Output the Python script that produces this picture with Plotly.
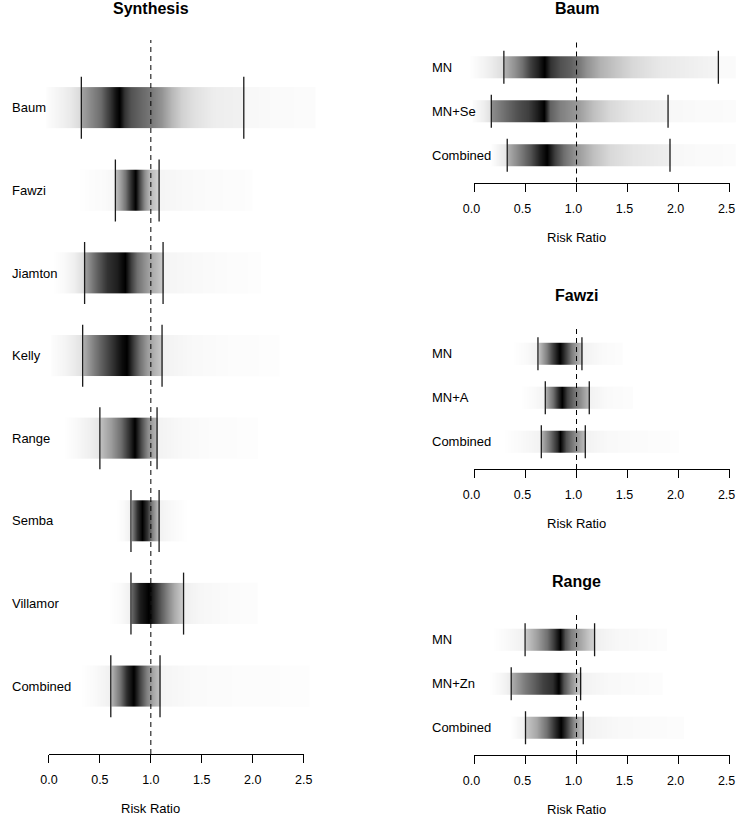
import plotly.graph_objects as go

W, H = 745, 816

# ---------------- data ----------------
TICK_VALUES = [0.0, 0.5, 1.0, 1.5, 2.0, 2.5]
TICK_LABELS = ["0.0", "0.5", "1.0", "1.5", "2.0", "2.5"]
NULL_VALUE = 1.0
AXIS_TITLE = "Risk Ratio"

# --- Synthesis panel ---
SYN_TITLE = "Synthesis"
SYN_LABELS = ["Baum", "Fawzi", "Jiamton", "Kelly", "Range", "Semba", "Villamor", "Combined"]
SYN_LO = [0.318, 0.652, 0.35, 0.331, 0.5, 0.805, 0.805, 0.607]
SYN_HI = [1.912, 1.081, 1.12, 1.11, 1.061, 1.081, 1.321, 1.09]
# density-strip shading: positions and darkness (0 = white, 1 = black)
SYN_SHADE_X = [
    [-0.04, -0.03, 0.08, 0.2, 0.318, 0.318, 0.4, 0.5, 0.6, 0.65, 0.69, 0.74, 0.8, 0.9, 1.0, 1.1, 1.2, 1.3, 1.42, 1.6, 1.912, 1.912, 2.2, 2.6, 2.61],
    [0.28, 0.4, 0.55, 0.652, 0.652, 0.7, 0.75, 0.8, 0.844, 0.89, 0.94, 0.99, 1.081, 1.081, 1.3, 1.6, 1.83, 1.99, 2.0],
    [0.05, 0.15, 0.25, 0.35, 0.35, 0.47, 0.57, 0.67, 0.75, 0.8, 0.86, 0.92, 0.99, 1.12, 1.12, 1.4, 1.8, 2.07, 2.08],
    [0.01, 0.02, 0.15, 0.25, 0.331, 0.331, 0.44, 0.54, 0.63, 0.71, 0.76, 0.83, 0.89, 0.97, 1.11, 1.11, 1.4, 1.8, 2.25, 2.26],
    [0.146, 0.25, 0.4, 0.5, 0.5, 0.6, 0.7, 0.78, 0.844, 0.91, 0.97, 1.061, 1.061, 1.3, 1.6, 2.04, 2.05],
    [0.665, 0.74, 0.805, 0.805, 0.86, 0.915, 0.96, 1.01, 1.081, 1.081, 1.2, 1.36],
    [0.584, 0.7, 0.805, 0.805, 0.89, 0.98, 1.04, 1.1, 1.17, 1.23, 1.321, 1.321, 1.5, 1.8, 2.04, 2.05],
    [0.31, 0.45, 0.607, 0.607, 0.7, 0.76, 0.828, 0.89, 0.96, 1.02, 1.09, 1.09, 1.4, 1.9, 2.55, 2.56],
]
SYN_SHADE_D = [
    [0, 0.01, 0.04, 0.08, 0.15, 0.36, 0.45, 0.57, 0.8, 0.93, 1.0, 0.8, 0.68, 0.6, 0.52, 0.42, 0.28, 0.18, 0.12, 0.07, 0.055, 0.03, 0.02, 0.015, 0],
    [0, 0.01, 0.02, 0.04, 0.25, 0.38, 0.55, 0.8, 1.0, 0.72, 0.45, 0.28, 0.15, 0.04, 0.025, 0.015, 0.012, 0.008, 0],
    [0, 0.02, 0.06, 0.14, 0.38, 0.62, 0.8, 0.88, 1.0, 0.75, 0.56, 0.46, 0.35, 0.2, 0.04, 0.025, 0.012, 0.008, 0],
    [0, 0.01, 0.04, 0.08, 0.12, 0.32, 0.5, 0.68, 0.82, 0.95, 1.0, 0.75, 0.56, 0.38, 0.2, 0.05, 0.025, 0.012, 0.008, 0],
    [0, 0.02, 0.06, 0.1, 0.25, 0.38, 0.56, 0.8, 1.0, 0.68, 0.45, 0.25, 0.05, 0.025, 0.012, 0.008, 0],
    [0, 0.02, 0.06, 0.5, 0.8, 1.0, 0.8, 0.5, 0.22, 0.05, 0.025, 0],
    [0, 0.02, 0.06, 0.6, 0.88, 1.0, 0.82, 0.62, 0.45, 0.32, 0.18, 0.06, 0.03, 0.015, 0.01, 0],
    [0, 0.02, 0.06, 0.3, 0.56, 0.82, 1.0, 0.75, 0.5, 0.35, 0.22, 0.04, 0.02, 0.012, 0.008, 0],
]

# --- Baum panel ---
BAUM_TITLE = "Baum"
BAUM_LABELS = ["MN", "MN+Se", "Combined"]
BAUM_LO = [0.288, 0.165, 0.321]
BAUM_HI = [2.39, 1.897, 1.916]
BAUM_SHADE_X = [
    [-0.05, 0.05, 0.15, 0.288, 0.288, 0.39, 0.47, 0.55, 0.63, 0.68, 0.74, 0.84, 0.94, 1.0, 1.1, 1.23, 1.39, 1.55, 1.81, 2.14, 2.39, 2.39, 2.7],
    [-0.03, -0.02, 0.08, 0.165, 0.165, 0.29, 0.42, 0.52, 0.61, 0.677, 0.74, 0.84, 1.0, 1.16, 1.33, 1.55, 1.897, 1.897, 2.2, 2.7],
    [0.16, 0.24, 0.321, 0.321, 0.44, 0.55, 0.64, 0.71, 0.79, 0.87, 1.0, 1.16, 1.33, 1.55, 1.916, 1.916, 2.2, 2.7],
]
BAUM_SHADE_D = [
    [0, 0.03, 0.07, 0.14, 0.3, 0.43, 0.56, 0.75, 0.88, 1.0, 0.8, 0.68, 0.62, 0.56, 0.43, 0.3, 0.22, 0.15, 0.09, 0.06, 0.04, 0.02, 0.015],
    [0, 0.01, 0.06, 0.12, 0.45, 0.56, 0.68, 0.75, 0.88, 1.0, 0.62, 0.5, 0.4, 0.25, 0.15, 0.09, 0.055, 0.03, 0.02, 0.015],
    [0, 0.05, 0.1, 0.32, 0.5, 0.68, 0.88, 1.0, 0.75, 0.56, 0.4, 0.25, 0.15, 0.1, 0.065, 0.03, 0.02, 0.015],
]

# --- Fawzi panel ---
FAWZI_TITLE = "Fawzi"
FAWZI_LABELS = ["MN", "MN+A", "Combined"]
FAWZI_LO = [0.622, 0.694, 0.655]
FAWZI_HI = [1.053, 1.125, 1.086]
FAWZI_SHADE_X = [
    [0.37, 0.5, 0.622, 0.622, 0.71, 0.77, 0.833, 0.89, 0.95, 1.03, 1.053, 1.053, 1.25, 1.44, 1.45],
    [0.45, 0.58, 0.694, 0.694, 0.77, 0.82, 0.856, 0.9, 0.97, 1.03, 1.125, 1.125, 1.3, 1.54, 1.55],
    [0.29, 0.45, 0.655, 0.655, 0.74, 0.81, 0.84, 0.9, 0.98, 1.086, 1.086, 1.3, 1.6, 1.82, 1.99, 2.0],
]
FAWZI_SHADE_D = [
    [0, 0.02, 0.05, 0.25, 0.5, 0.75, 1.0, 0.75, 0.5, 0.28, 0.22, 0.05, 0.02, 0.01, 0],
    [0, 0.02, 0.05, 0.32, 0.56, 0.82, 1.0, 0.75, 0.56, 0.45, 0.25, 0.05, 0.02, 0.01, 0],
    [0, 0.02, 0.05, 0.32, 0.56, 0.82, 1.0, 0.68, 0.45, 0.25, 0.05, 0.025, 0.015, 0.012, 0.008, 0],
]

# --- Range panel ---
RANGE_TITLE = "Range"
RANGE_LABELS = ["MN", "MN+Zn", "Combined"]
RANGE_LO = [0.496, 0.36, 0.5]
RANGE_HI = [1.177, 1.04, 1.066]
RANGE_SHADE_X = [
    [0.175, 0.3, 0.496, 0.496, 0.61, 0.71, 0.77, 0.833, 0.89, 0.95, 1.03, 1.12, 1.177, 1.177, 1.4, 1.88, 1.89],
    [0.142, 0.25, 0.36, 0.36, 0.48, 0.58, 0.68, 0.76, 0.823, 0.87, 0.94, 1.02, 1.04, 1.04, 1.3, 1.83, 1.84],
    [0.35, 0.42, 0.5, 0.5, 0.61, 0.71, 0.79, 0.84, 0.9, 0.97, 1.05, 1.066, 1.066, 1.4, 2.04, 2.05],
]
RANGE_SHADE_D = [
    [0, 0.02, 0.06, 0.22, 0.38, 0.56, 0.75, 1.0, 0.68, 0.5, 0.35, 0.22, 0.17, 0.06, 0.03, 0.01, 0],
    [0, 0.03, 0.08, 0.32, 0.5, 0.62, 0.75, 0.82, 1.0, 0.68, 0.45, 0.22, 0.2, 0.05, 0.025, 0.01, 0],
    [0, 0.03, 0.06, 0.22, 0.35, 0.56, 0.82, 1.0, 0.75, 0.45, 0.25, 0.22, 0.05, 0.025, 0.01, 0],
]

# ---------------- layout (pixel geometry) ----------------
FONT = "Liberation Sans, Arial, Helvetica, sans-serif"

# The viewer shows page x at  CAP_OFF + CAP_SCALE * x  (measured on earlier renders);
# geometry below is given in target-picture pixels and converted to page pixels.
CAP_OFF = 7.8
CAP_SCALE = 0.979


def page_x(target_px):
    return min(W, max(0.0, (target_px - CAP_OFF) / CAP_SCALE))


PANELS = [
    dict(title=SYN_TITLE, labels=SYN_LABELS, lo=SYN_LO, hi=SYN_HI, sx=SYN_SHADE_X, sd=SYN_SHADE_D,
         px0=0, px1=372, x0px=45.0, ppu=102.67, ptop=40, pbot=754, label_px=2, tshift=0),
    dict(title=BAUM_TITLE, labels=BAUM_LABELS, lo=BAUM_LO, hi=BAUM_HI, sx=BAUM_SHADE_X, sd=BAUM_SHADE_D,
         px0=372, px1=745, x0px=473.7, ppu=102.8, ptop=40, pbot=182.5, label_px=431, tshift=-3),
    dict(title=FAWZI_TITLE, labels=FAWZI_LABELS, lo=FAWZI_LO, hi=FAWZI_HI, sx=FAWZI_SHADE_X, sd=FAWZI_SHADE_D,
         px0=372, px1=745, x0px=473.7, ppu=102.8, ptop=326.5, pbot=469, label_px=431, tshift=-3),
    dict(title=RANGE_TITLE, labels=RANGE_LABELS, lo=RANGE_LO, hi=RANGE_HI, sx=RANGE_SHADE_X, sd=RANGE_SHADE_D,
         px0=372, px1=745, x0px=473.7, ppu=102.8, ptop=612.5, pbot=755, label_px=431, tshift=-3),
]

STRIP_H = 0.5
CI_H = 0.75
GRAY = [[0.0, "#ffffff"], [1.0, "#000000"]]


def nudge(xs):
    out = []
    for v in xs:
        if out and v <= out[-1]:
            v = out[-1] + 0.004
        out.append(v)
    return out


fig = go.Figure()
layout = dict(
    width=W, height=H, autosize=False, margin=dict(l=0, r=0, t=0, b=0, pad=0),
    paper_bgcolor="white", plot_bgcolor="rgba(0,0,0,0)",
    showlegend=False, font=dict(family=FONT, color="black", size=13),
)
annotations = []

for i, p in enumerate(PANELS):
    n = i + 1
    tn = i + 5
    xa = "x" if n == 1 else f"x{n}"
    ya = "y" if n == 1 else f"y{n}"
    xta = f"x{tn}"
    nrows = len(p["labels"])
    ylo = 0.5 - 0.04 * nrows
    yhi = nrows + 0.5 + 0.04 * nrows

    # convert panel geometry to page pixels
    x0 = page_x(p["x0px"])
    ppu = p["ppu"] / CAP_SCALE
    d0, d1 = page_x(p["px0"]), page_x(p["px1"])
    xr = [(d0 - x0) / ppu, (d1 - x0) / ppu]
    ydom = [1 - p["pbot"] / H, 1 - p["ptop"] / H]

    layout["xaxis" if n == 1 else f"xaxis{n}"] = dict(
        domain=[d0 / W, d1 / W], range=xr, visible=False, anchor=ya, fixedrange=True)
    layout["yaxis" if n == 1 else f"yaxis{n}"] = dict(
        domain=ydom, range=[ylo, yhi], visible=False, anchor=xa, fixedrange=True)
    # tick axis covering 0 .. 2.5 only (as in the reference)
    t0, t1 = TICK_VALUES[0], TICK_VALUES[-1]
    layout[f"xaxis{tn}"] = dict(
        domain=[(x0 + ppu * t0) / W, (x0 + ppu * t1) / W],
        range=[t0, t1], anchor=ya, showline=True, linecolor="black", linewidth=1,
        ticks="outside", ticklen=8, tickwidth=1, tickcolor="black",
        tickvals=TICK_VALUES, ticktext=TICK_LABELS, showgrid=False, zeroline=False,
        tickfont=dict(size=12.5, family=FONT, color="black"), ticklabelstandoff=6,
        ticklabelshift=p["tshift"], fixedrange=True)

    ci_x, ci_y = [], []
    for j, lab in enumerate(p["labels"]):
        yc = nrows - j
        xs = nudge(p["sx"][j])
        ds = p["sd"][j]
        fig.add_trace(go.Heatmap(
            x=xs, y=[yc - STRIP_H / 2, yc, yc + STRIP_H / 2], z=[ds, ds],
            zsmooth="best", colorscale=GRAY, zmin=0, zmax=1, showscale=False,
            hoverinfo="skip", xaxis=xa, yaxis=ya))
        for v in (p["lo"][j], p["hi"][j]):
            ci_x += [v, v, None]
            ci_y += [yc - CI_H / 2, yc + CI_H / 2, None]
        annotations.append(dict(
            text=lab, xref="paper", x=page_x(p["label_px"]) / W, xanchor="left",
            yref=ya, y=yc, yanchor="middle", showarrow=False, borderpad=0, borderwidth=0,
            font=dict(size=13, family=FONT, color="black")))

    fig.add_trace(go.Scatter(x=ci_x, y=ci_y, mode="lines",
                             line=dict(color="#1a1a1a", width=1.3),
                             hoverinfo="skip", xaxis=xa, yaxis=ya))
    fig.add_trace(go.Scatter(x=[NULL_VALUE, NULL_VALUE], y=[ylo, yhi], mode="lines",
                             line=dict(color="black", width=1, dash="5px,4px"),
                             hoverinfo="skip", xaxis=xa, yaxis=ya))
    fig.add_trace(go.Scatter(x=[t0, t1], y=[ylo, ylo], mode="lines",
                             line=dict(color="rgba(0,0,0,0)", width=0),
                             hoverinfo="skip", xaxis=xta, yaxis=ya))

    annotations.append(dict(
        text=f"<b>{p['title']}</b>", xref=xa, x=NULL_VALUE, xanchor="center",
        yref="paper", y=1 - (p["ptop"] - 31) / H, yanchor="middle", showarrow=False,
        font=dict(size=16, family=FONT, color="black")))
    annotations.append(dict(
        text=AXIS_TITLE, xref=xa, x=NULL_VALUE, xanchor="center",
        yref="paper", y=1 - (p["pbot"] + 54.5) / H, yanchor="middle", showarrow=False,
        font=dict(size=13, family=FONT, color="black")))

layout["annotations"] = annotations
fig.update_layout(**layout)

# page without default body margin / scrollbars so the 745x816 figure fills the window
PAGE_FIX = (
    "document.documentElement.style.margin='0';"
    "document.documentElement.style.padding='0';"
    "document.documentElement.style.overflow='hidden';"
    "document.body.style.margin='0';"
    "document.body.style.padding='0';"
    "document.body.style.overflow='hidden';"
    "Plotly.relayout('{plot_id}', {width: 745, height: 816});"
)
fig.write_html("out.html", config={"responsive": False, "displayModeBar": False},
               post_script=PAGE_FIX)
